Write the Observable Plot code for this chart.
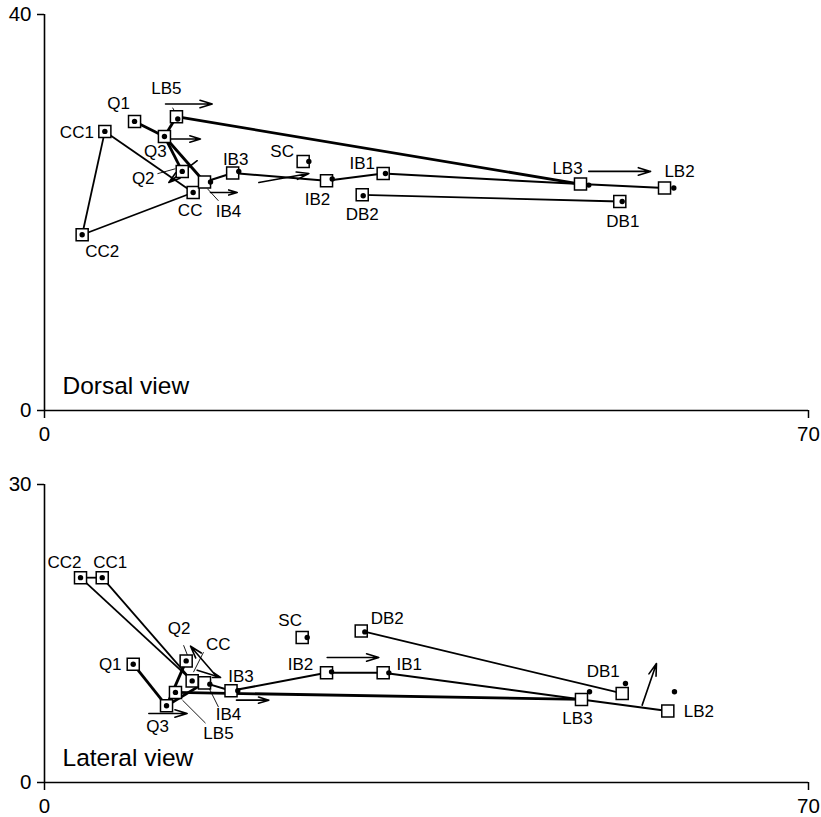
<!DOCTYPE html>
<html><head><meta charset="utf-8">
<script src="https://cdn.jsdelivr.net/npm/d3@7"></script>
<script src="https://cdn.jsdelivr.net/npm/@observablehq/plot@0.6"></script>
<style>
body{margin:0;background:#fff;}
#chart{width:821px;}
#chart svg{display:block;}
</style></head><body><div id="chart"></div>
<script>
// ---------- data ----------
const names = ["CC1","CC2","CC","Q1","Q2","Q3","LB5","IB4","IB3","SC","IB2","IB1","DB2","LB3","DB1","LB2"];

// Dorsal view: open squares and filled dots
const dorsalSquareX = [5.53, 3.45, 13.62, 8.25, 12.62, 10.99, 12.09, 14.66, 17.24, 23.70, 25.84, 31.03, 29.11, 49.11, 52.71, 56.81];
const dorsalSquareY = [28.19, 17.75, 22.02, 29.20, 24.15, 27.68, 29.68, 23.08, 23.99, 25.16, 23.21, 23.94, 21.79, 22.87, 21.11, 22.47];
const dorsalDotX    = [5.53, 3.45, 13.62, 8.25, 12.62, 10.99, 12.21, 15.21, 17.80, 24.22, 26.36, 31.24, 29.20, 49.87, 52.93, 57.66];
const dorsalDotY    = [28.19, 17.75, 22.02, 29.20, 24.15, 27.68, 29.44, 23.08, 24.15, 25.16, 23.38, 23.94, 21.69, 22.77, 21.11, 22.47];

// Lateral view
const lateralSquareX = [5.29, 3.30, 13.53, 8.13, 12.98, 11.18, 12.00, 14.66, 17.09, 23.61, 25.84, 31.03, 29.02, 49.20, 52.93, 57.11];
const lateralSquareY = [20.62, 20.62, 10.23, 11.91, 12.24, 7.72, 9.07, 10.03, 9.23, 14.59, 11.04, 11.04, 15.26, 8.36, 8.96, 7.19];
const lateralDotX    = [5.29, 3.30, 13.53, 8.13, 12.98, 11.18, 12.00, 15.15, 17.71, 24.07, 26.30, 31.55, 29.35, 49.94, 53.23, 57.72];
const lateralDotY    = [20.62, 20.62, 10.23, 11.91, 12.24, 7.72, 9.07, 9.90, 9.23, 14.59, 11.14, 11.04, 15.16, 9.13, 9.97, 9.13];

// connections (same in both views)
const thickLinks = [["Q1","Q3"],["LB5","Q3"],["Q3","Q2"],["Q3","IB4"],["LB5","LB3"]];
const chainLinks = [["IB4","IB3"],["IB3","IB2"],["IB2","IB1"],["IB1","LB3"],["LB3","LB2"]];
const thinLinks  = [["CC1","CC2"],["CC2","CC"],["CC1","CC"],["DB2","DB1"]];

// movement arrows [x1, y1, x2, y2]
const dorsalArrows = [
  [11.09, 30.96, 15.37, 30.96],
  [11.24, 27.42, 14.29, 27.42],
  [13.99, 25.23, 11.39, 23.03],
  [15.21, 22.02, 17.66, 22.02],
  [19.64, 23.03, 24.22, 23.94],
  [49.87, 24.15, 55.53, 24.15]
];
const lateralArrows = [
  [15.67, 10.80, 13.38, 13.72],
  [13.99, 11.31, 16.13, 10.57],
  [9.56, 6.95, 13.07, 6.95],
  [17.59, 8.29, 20.55, 8.29],
  [25.90, 12.58, 30.63, 12.58],
  [54.76, 7.79, 56.07, 11.98]
];
// label leader lines [x1, y1, x2, y2]
const dorsalLeaders = [
  [10.35, 23.92, 12.00, 24.42],
  [14.93, 22.40, 15.94, 21.18],
  [11.73, 30.59, 12.00, 30.08]
];
const lateralLeaders = [
  [12.74, 13.82, 13.10, 12.81],
  [14.57, 13.12, 13.65, 11.11],
  [15.94, 7.59, 15.03, 9.60],
  [14.75, 5.98, 12.64, 8.29]
];

const xTicks = [0, 70];
const dorsalYTicks = [0, 40];
const lateralYTicks = [0, 30];
const panelTitles = ["Dorsal view", "Lateral view"];

// ---------- layout (pixel offsets of labels from squares) ----------
const dorsalLabelOffset = {
  CC1:[-28,1], CC2:[20,17], CC:[-3,18], Q1:[-16,-18], Q2:[-39,7], Q3:[-9,15], LB5:[-10,-28],
  IB4:[24,30], IB3:[3,-13], SC:[-21,-10], IB2:[-9,19], IB1:[-21,-10], DB2:[0,20], LB3:[-13,-16],
  DB1:[3,20], LB2:[15,-17]
};
const lateralLabelOffset = {
  CC1:[8,-15], CC2:[-16,-15], CC:[26,-36], Q1:[-23,0], Q2:[-7,-32], Q3:[-9,21], LB5:[43,41],
  IB4:[24,32], IB3:[10,-14], SC:[-12,-17], IB2:[-26,-8], IB1:[26,-8], DB2:[26,-12], LB3:[-4,19],
  DB1:[-19,-22], LB2:[31,0]
};

const FONT = "'Liberation Sans', Arial, Helvetica, sans-serif";

function panel({sqX, sqY, dX, dY, arrows, leaders, offsets, yMax, yTicks, title, height, marginTop, marginBottom}) {
  const pts = names.map((n, i) => ({name: n, x: sqX[i], y: sqY[i], dx: dX[i], dy: dY[i]}));
  const byName = Object.fromEntries(pts.map(p => [p.name, p]));
  const seg = (links) => links.map(([a, b]) => ({x1: byName[a].x, y1: byName[a].y, x2: byName[b].x, y2: byName[b].y}));
  const arr = arrows.map(([x1, y1, x2, y2]) => ({x1, y1, x2, y2}));
  const lead = leaders.map(([x1, y1, x2, y2]) => ({x1, y1, x2, y2}));
  const marks = [
    Plot.ruleX([0], {y1: 0, y2: yMax, stroke: "#000", strokeWidth: 1.6}),
    Plot.ruleY([0], {x1: 0, x2: 70, stroke: "#000", strokeWidth: 1.6}),
    Plot.axisY({ticks: yTicks, tickSize: 7, tickPadding: 6, label: null, fontSize: 20.5, strokeWidth: 1.5}),
    Plot.axisX({ticks: xTicks, tickSize: 8, tickPadding: 8, label: null, fontSize: 20.5, strokeWidth: 1.5}),
    Plot.link(seg(thinLinks), {x1: "x1", y1: "y1", x2: "x2", y2: "y2", stroke: "#000", strokeWidth: 1.8}),
    Plot.link(seg(chainLinks), {x1: "x1", y1: "y1", x2: "x2", y2: "y2", stroke: "#000", strokeWidth: 2}),
    Plot.link(seg(thickLinks), {x1: "x1", y1: "y1", x2: "x2", y2: "y2", stroke: "#000", strokeWidth: 2.8}),
    Plot.link(lead, {x1: "x1", y1: "y1", x2: "x2", y2: "y2", stroke: "#000", strokeWidth: 0.9}),
    Plot.arrow(arr, {x1: "x1", y1: "y1", x2: "x2", y2: "y2", stroke: "#000", strokeWidth: 1.6, headLength: 12, headAngle: 34, inset: 0}),
    Plot.dot(pts, {x: "x", y: "y", symbol: "square", r: 6.8, fill: "#fff", stroke: "#000", strokeWidth: 1.5}),
    Plot.dot(pts, {x: "dx", y: "dy", r: 2.7, fill: "#000", stroke: "none"}),
    ...pts.map(p => Plot.text([p], {x: "x", y: "y", text: "name", dx: offsets[p.name][0], dy: offsets[p.name][1], fontSize: 17, fill: "#000"})),
    Plot.text([title], {frameAnchor: "bottom-left", dx: 18, dy: -17, text: d => d, fontSize: 24.5, textAnchor: "start", fill: "#000"})
  ];
  return Plot.plot({
    width: 821, height, marginLeft: 44, marginRight: 13, marginTop, marginBottom,
    x: {domain: [0, 70]},
    y: {domain: [0, yMax]},
    style: {fontFamily: FONT, background: "#fff", color: "#000"},
    marks
  });
}

const chart = document.getElementById("chart");
chart.append(panel({
  sqX: dorsalSquareX, sqY: dorsalSquareY, dX: dorsalDotX, dY: dorsalDotY,
  arrows: dorsalArrows, leaders: dorsalLeaders, offsets: dorsalLabelOffset,
  yMax: 40, yTicks: dorsalYTicks, title: panelTitles[0], height: 445, marginTop: 14, marginBottom: 35
}));
chart.append(panel({
  sqX: lateralSquareX, sqY: lateralSquareY, dX: lateralDotX, dY: lateralDotY,
  arrows: lateralArrows, leaders: lateralLeaders, offsets: lateralLabelOffset,
  yMax: 30, yTicks: lateralYTicks, title: panelTitles[1], height: 372, marginTop: 39, marginBottom: 35
}));
</script>
</body></html>
